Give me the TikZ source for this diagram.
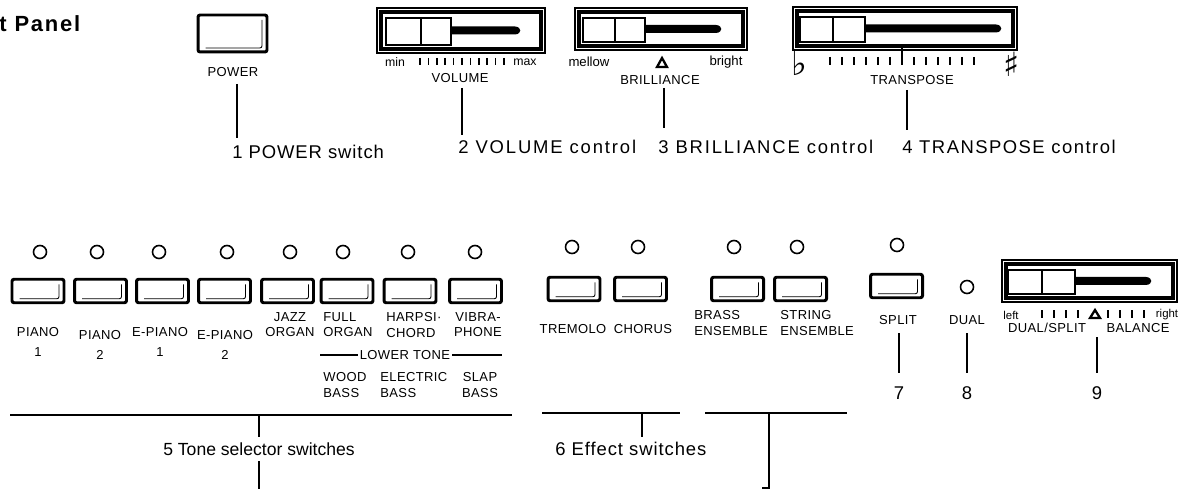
\documentclass[tikz,border=0pt]{standalone}
\usepackage{fontspec}
\setmainfont{Liberation Sans}
\newfontfamily\djv{DejaVu Sans}
\newcommand\drawslider[8]{%
 \draw[line width=0.8pt] (#1,#2) rectangle (#3,#4);
 \draw[line width=1.8pt] ({#1+4},{#2+4}) rectangle ({#3-4},{#4-4});
 \draw[line width=1.2pt] (#5,{#2+10}) rectangle (#6,{#4-8});
 \draw[line width=1.2pt] (#6,{#2+10}) rectangle (#7,{#4-8});
 \fill (#7,{(#2+#4)/2-4}) -- ({#8-7},{(#2+#4)/2-4}) .. controls ({#8},{(#2+#4)/2-3.5}) and ({#8},{(#2+#4)/2+3.5}) .. ({#8-7},{(#2+#4)/2+4}) -- (#7,{(#2+#4)/2+4}) -- cycle;
}
\begin{document}
\begin{tikzpicture}[x=0.02cm,y=-0.02cm,
 lbl/.style={font=\fontsize{7.4}{8.6}\selectfont\addfontfeature{LetterSpace=3}, inner sep=0, align=center},
 tiny/.style={font=\fontsize{7}{8}\selectfont, inner sep=0},
 big/.style={font=\fontsize{10.5}{12}\selectfont\addfontfeature{LetterSpace=#1}, inner sep=0, anchor=west},
 big/.default=9,
 num/.style={font=\fontsize{10.5}{12}\selectfont, inner sep=0},
 lead/.style={line width=0.6pt},
 tick/.style={line width=1pt},
 btn/.style={draw, line width=1.7pt, rounded corners=1.2pt, minimum width=1.04cm, minimum height=0.47cm, inner sep=0,
   path picture={\draw[line width=0.5pt] ([xshift=0.15cm,yshift=0.08cm]path picture bounding box.south west) -- ([xshift=-0.1cm,yshift=0.08cm]path picture bounding box.south east) -- ([xshift=-0.1cm,yshift=-0.1cm]path picture bounding box.north east);}},
 led/.style={circle, draw, line width=0.9pt, minimum size=0.26cm, inner sep=0}]
\useasboundingbox (0,0) rectangle (1182,489);

% title
\node[font=\fontsize{12.5}{14}\selectfont\bfseries\addfontfeature{LetterSpace=8}, anchor=west, inner sep=0] (title) at (-1,24) {t Panel};

% ---- top row ----
\node[btn, minimum width=1.38cm, minimum height=0.74cm] (power) at (232.5,33.5) {};
\node[lbl] (pwl) at (233,72) {POWER};
\node[big=5] (pwt) at (232,152) {1 POWER switch};
\coordinate (l1a) at (237,84); \coordinate (l1b) at (237,138);
\draw[lead] (l1a) -- (l1b);

% VOLUME
\drawslider{377}{8}{545}{53}{386}{421}{451}{522}
\node[tiny] (vmin) at (395,62) {min};
\node[tiny] (vmax) at (525,62) {max};
\foreach \i in {0,...,10} \draw[tick] ({420+\i*8.4},58) -- ++(0,7);
\node[lbl] (voll) at (460,78) {VOLUME};
\node[big=10] (volt) at (458,147) {2 VOLUME control};
\coordinate (l2a) at (462,88); \coordinate (l2b) at (462,135);
\draw[lead] (l2a) -- (l2b);

% BRILLIANCE
\drawslider{575}{8}{747}{50}{583}{615}{645}{723}
\node[tiny, font=\fontsize{7.5}{8}\selectfont] (mel) at (589,62) {mellow};
\node[tiny, font=\fontsize{7.5}{8}\selectfont] (bri) at (726,62) {bright};
\draw[line width=1.3pt, line join=miter] (657,67) -- (667,67) -- (662,58) -- cycle;
\node[lbl] (bril) at (660,80) {BRILLIANCE};
\node[big=10] (brit) at (658,147) {3 BRILLIANCE control};
\coordinate (l3a) at (664,88); \coordinate (l3b) at (664,128);
\draw[lead] (l3a) -- (l3b);

% TRANSPOSE
\drawslider{793}{7}{1017}{50}{800}{833}{865}{1003}
\node[font=\djv\fontsize{19}{20}\selectfont\bfseries, inner sep=0] (flat) at (799,63) {♭};
\node[font=\djv\fontsize{19}{20}\selectfont\bfseries, inner sep=0] (sharp) at (1012,64) {♯};
\foreach \i in {0,...,5,7,8,...,12} \draw[tick] ({830+\i*12},57) -- ++(0,8);
\draw[tick] (902,48) -- (902,65);
\node[lbl] (trl) at (912,80) {TRANSPOSE};
\node[big=8] (trt) at (902,147) {4 TRANSPOSE control};
\coordinate (l4a) at (907,90); \coordinate (l4b) at (907,130);
\draw[lead] (l4a) -- (l4b);

% ---- bottom row: tone ----
\foreach \n/\x/\lx in {a/38/40, b/100.5/97, c/162.5/159, d/224.5/227, e/287.5/290, f/347/343, g/410/408, h/475.5/475}{
  \node[btn] (b\n) at (\x,291) {};
  \node[led] (d\n) at (\lx,252) {};
}
\node[lbl, align=center] (ta) at (38,342) {PIANO\\[2.5pt]1};
\node[lbl, align=center] (tb) at (100,345) {PIANO\\[2.5pt]2};
\node[lbl, align=center] (tc) at (160,342) {E-PIANO\\[2.5pt]1};
\node[lbl, align=center] (td) at (225,345) {E-PIANO\\[2.5pt]2};
\node[lbl, align=center] (te) at (290,325) {JAZZ\\ORGAN};
\node[lbl, align=left, anchor=west] (tf) at (323,325) {FULL\\ORGAN};
\node[lbl, align=left, anchor=west] (tg) at (386,325) {HARPSI·\\CHORD};
\node[lbl, align=center] (th) at (478,325) {VIBRA-\\PHONE};
\node[lbl] (lt) at (405,355) {LOWER TONE};
\coordinate (lta) at (320,355); \coordinate (ltb) at (502,355);
\draw[lead] (lta) -- ([xshift=-1pt]lt.west);
\draw[lead] ([xshift=1pt]lt.east) -- (ltb);
\node[lbl, align=left, anchor=west] (wb) at (323,385) {WOOD\\BASS};
\node[lbl, align=left, anchor=west] (eb) at (380,385) {ELECTRIC\\BASS};
\node[lbl, align=center] (sb) at (480,385) {SLAP\\BASS};

% ---- effect ----
\foreach \n/\x/\lx in {i/574/572, j/640.5/638, k/737.5/734, l/800.5/797}{
  \node[btn] (b\n) at (\x,289) {};
  \node[led] (d\n) at (\lx,247) {};
}
\node[lbl] (tr) at (573,329) {TREMOLO};
\node[lbl] (ch) at (643,329) {CHORUS};
\node[lbl, align=left, anchor=west] (br) at (694,323) {BRASS\\ENSEMBLE};
\node[lbl, align=left, anchor=west] (st) at (780,323) {STRING\\ENSEMBLE};

% ---- split / dual / balance ----
\node[btn] (bsp) at (896.5,286) {};
\node[led] (dsp) at (897,245) {};
\node[led] (ddu) at (967,287) {};
\node[lbl] (spl) at (898,320) {SPLIT};
\node[lbl] (dul) at (967,320) {DUAL};
\drawslider{1002}{260}{1177}{302}{1008}{1042}{1075}{1153}
\node[tiny, font=\fontsize{6.5}{7}\selectfont] (bleft) at (1011,315) {left};
\node[tiny, font=\fontsize{6.5}{7}\selectfont] (bright) at (1167,315) {right};
\foreach \x in {1042,1054,1066,1078,1108,1120,1132,1144} \draw[tick] (\x,310) -- ++(0,8);
\draw[line width=1.3pt, line join=miter] (1090,318) -- (1100,318) -- (1095,310) -- cycle;
\node[lbl] (dsl) at (1047,328) {DUAL/SPLIT};
\node[lbl] (bal) at (1138,328) {BALANCE};
\node[num] (n7) at (899,393) {7};
\node[num] (n8) at (967,393) {8};
\node[num] (n9) at (1097,393) {9};
\coordinate (l7a) at (899,333); \coordinate (l7b) at (899,373);
\coordinate (l8a) at (967,333); \coordinate (l8b) at (967,373);
\coordinate (l9a) at (1097,337); \coordinate (l9b) at (1097,373);
\draw[lead] (l7a) -- (l7b);
\draw[lead] (l8a) -- (l8b);
\draw[lead] (l9a) -- (l9b);

% ---- brackets ----
\coordinate (t5a) at (10,415); \coordinate (t5b) at (512,415);
\coordinate (t5c) at (259,415); \coordinate (t5d) at (259,437);
\coordinate (t5e) at (259,461); \coordinate (t5f) at (259,489);
\draw[lead] (t5a) -- (t5b);
\draw[lead] (t5c) -- (t5d);
\node[num, font=\fontsize{10}{12}\selectfont] (t5) at (259,449) {5 Tone selector switches};
\draw[lead] (t5e) -- (t5f);

\coordinate (e6a) at (542,413); \coordinate (e6b) at (680,413);
\coordinate (e6c) at (642,413); \coordinate (e6d) at (642,437);
\coordinate (e6e) at (705,413); \coordinate (e6f) at (847,413);
\coordinate (e6g) at (769,413); \coordinate (e6h) at (769,488); \coordinate (e6i) at (762,488);
\draw[lead] (e6a) -- (e6b);
\draw[lead] (e6c) -- (e6d);
\node[big=5] (e6) at (555,449) {6 Effect switches};
\draw[lead] (e6e) -- (e6f);
\draw[lead] (e6g) -- (e6h) -- (e6i);
\end{tikzpicture}
\end{document}
